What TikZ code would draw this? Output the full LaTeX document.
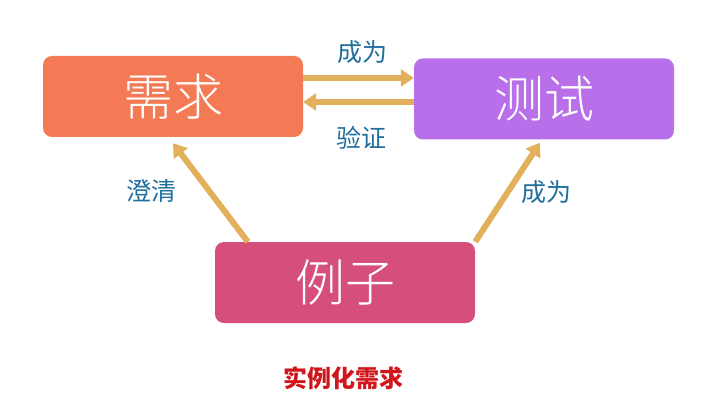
\documentclass[tikz,border=0pt]{standalone}
\usepackage{fontspec}
\newfontfamily\cjk{Noto Sans CJK SC}
\newfontfamily\cjklight{Noto Sans CJK SC Light}
\usetikzlibrary{arrows.meta}
\definecolor{reqorange}{HTML}{F47A55}
\definecolor{testpurple}{HTML}{B96FE9}
\definecolor{examplepink}{HTML}{D64F7A}
\definecolor{arrowgold}{HTML}{E2B05A}
\definecolor{labelblue}{HTML}{1F6E9C}
\definecolor{titlered}{HTML}{D0151B}
\begin{document}
\begin{tikzpicture}[x=1pt, y=1pt,
    box/.style={rounded corners=9pt, minimum width=260pt, minimum height=81pt,
      text=white, font=\cjklight\fontsize{50}{54}\selectfont, inner sep=0pt},
    flow/.style={draw=arrowgold, line width=6pt,
      -{Triangle[length=13pt, width=17pt]}},
    tag/.style={text=labelblue, font=\cjk\fontsize{25}{29}\selectfont}]
    \useasboundingbox (0,0) rectangle (720,405);
    % boxes
    \node[box, fill=reqorange] (xuqiu) at (173, 308.5) {需求};
    \node[box, fill=testpurple] (ceshi) at (544, 306) {测试};
    \node[box, fill=examplepink] (lizi) at (345, 122.5) {例子};
    % arrows between the boxes
    \draw[flow] ([yshift=18.5pt]xuqiu.east) -- ([yshift=21pt]ceshi.west);
    \draw[flow] ([yshift=-3pt]ceshi.west) -- ([yshift=-5.5pt]xuqiu.east);
    \draw[flow] ([xshift=33pt]lizi.north west) -- ([yshift=-6pt]xuqiu.south);
    \draw[flow] (lizi.north east) -- ([xshift=-4pt, yshift=-3pt]ceshi.south);
    % labels
    \node[tag] (chengwei1) at (362, 353) {成为};
    \node[tag] (yanzheng) at (361, 267) {验证};
    \node[tag] (chengqing) at (151, 214) {澄清};
    \node[tag] (chengwei2) at (546, 213) {成为};
    \node[text=titlered, font=\cjk\bfseries\fontsize{24}{28}\selectfont]
      (title) at (343, 27) {实例化需求};
\end{tikzpicture}
\end{document}
